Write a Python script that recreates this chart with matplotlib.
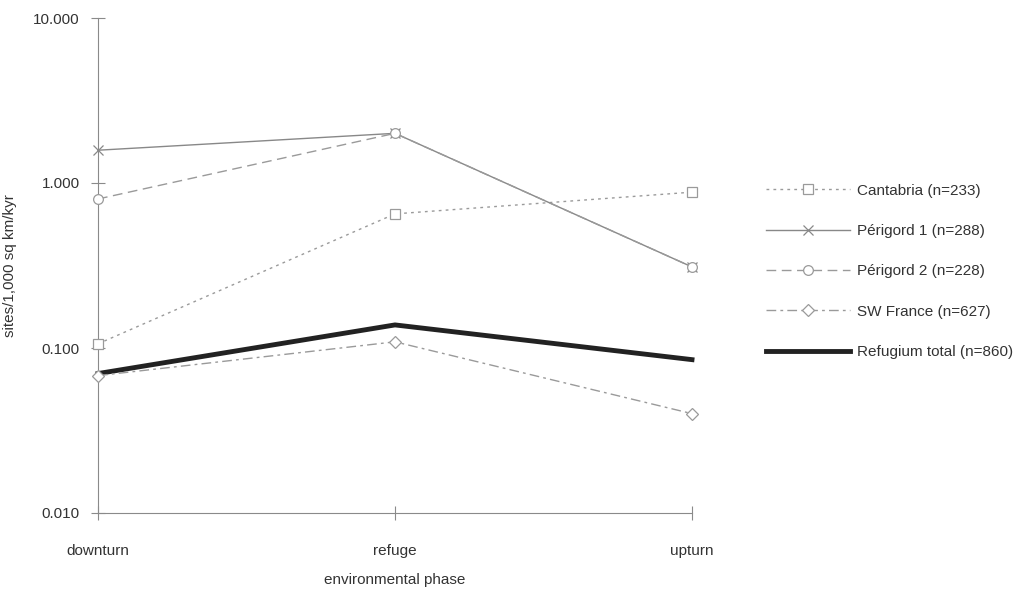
import matplotlib.pyplot as plt
from matplotlib.ticker import FixedLocator, FormatStrFormatter

plt.rcParams['font.family'] = ['Liberation Sans', 'DejaVu Sans']

# environmental phases
phases = ['downturn', 'refuge', 'upturn']

# sites / 1,000 sq km / kyr
cantabria = [0.106, 0.65, 0.88]
perigord1 = [1.58, 2.0, 0.31]
perigord2 = [0.80, 2.0, 0.31]
sw_france = [0.068, 0.109, 0.040]
refugium = [0.070, 0.138, 0.085]

labels = ['Cantabria (n=233)', 'Périgord 1 (n=288)', 'Périgord 2 (n=228)',
          'SW France (n=627)', 'Refugium total (n=860)']

fig = plt.figure(figsize=(10.21, 5.89), dpi=100)
ax = fig.add_axes([98 / 1021, 76 / 589, (692 - 98) / 1021, (513 - 18) / 589])

x = range(len(phases))
grey = '#9a9a9a'
ms = 7
ax.plot(x, cantabria, color=grey, lw=1, ls=(0, (2, 3)), marker='s', ms=ms,
        mfc='white', mec=grey, mew=0.9, label=labels[0], clip_on=False, zorder=3)
ax.plot(x, perigord1, color='#888888', lw=1, ls='-', marker='x', ms=ms,
        mec='#888888', mew=0.9, label=labels[1], clip_on=False, zorder=3)
ax.plot(x, perigord2, color=grey, lw=1, ls=(0, (7, 4)), marker='o', ms=ms,
        mfc='white', mec=grey, mew=0.9, label=labels[2], clip_on=False, zorder=3)
ax.plot(x, sw_france, color=grey, lw=1, ls=(0, (7, 3, 2, 3)), marker='D', ms=6,
        mfc='white', mec=grey, mew=0.9, label=labels[3], clip_on=False, zorder=3)
ax.plot(x, refugium, color='#222222', lw=3.5, ls='-',
        label=labels[4], clip_on=False, zorder=2)

ax.set_yscale('log')
ax.set_ylim(0.01, 10)
ax.set_xlim(0, 2)
ax.yaxis.set_major_locator(FixedLocator([0.01, 0.1, 1, 10]))
ax.yaxis.set_major_formatter(FormatStrFormatter('%.3f'))
ax.yaxis.set_minor_locator(FixedLocator([]))
ax.set_xticks(list(x))
ax.set_xticklabels(phases)

for s in ['top', 'right']:
    ax.spines[s].set_visible(False)
for s in ['left', 'bottom']:
    ax.spines[s].set_color('#8a8a8a')
    ax.spines[s].set_linewidth(0.8)

ax.tick_params(direction='inout', length=10, width=0.8, color='#8a8a8a',
               labelsize=11, labelcolor='#333333')
ax.tick_params(axis='x', pad=17)
ax.tick_params(axis='y', pad=8)

ax.set_xlabel('environmental phase', fontsize=11, color='#333333', labelpad=11)
ax.set_ylabel('sites/1,000 sq km/kyr', fontsize=11, color='#333333', labelpad=12)

fig.legend(loc='upper left', bbox_to_anchor=(752 / 1021, 1 - 170 / 589),
           frameon=False, fontsize=11, handlelength=5.5, handletextpad=0.45,
           labelspacing=1.72, labelcolor='#333333')

fig.savefig('out.png', dpi=100)
